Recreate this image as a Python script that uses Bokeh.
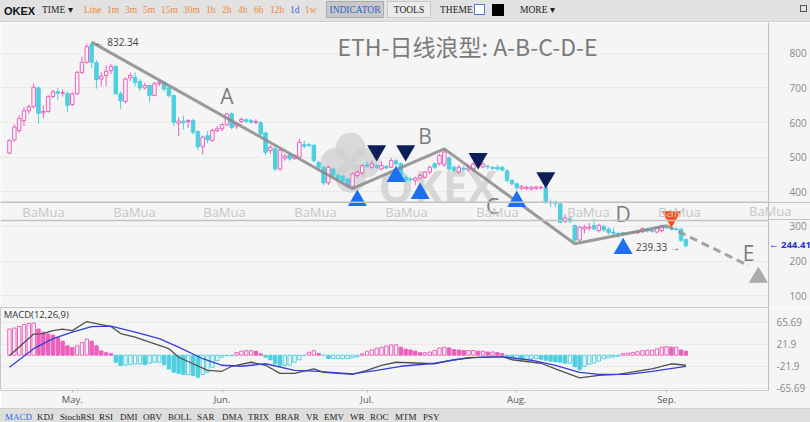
import numpy as np
import pandas as pd
from bokeh.plotting import figure
from bokeh.layouts import column
from bokeh.models import Range1d, FixedTicker, Label, Span, ColumnDataSource, Div, CustomJSTickFormatter
from bokeh.core.properties import value
from bokeh.embed import file_html
from bokeh.resources import INLINE

# ---------------- data ----------------
start_date = "2018-04-18"
opens = [512,550,577,606,634,646,700,628,632,675, 689,685,684,652,683,745,774,827,773,726,
         736,750,762,683,661,729,731,719,700,707, 678,712,714,700,678,598,604,603,606,574,
         530,562,548,577,582,594,625,590,603,608, 606,600,600,570,519,524,466,497,507,497,
         500,536,537,534,485,471,426,466,447,445, 437,416,447,455,478,471,476,466,473,471,
         490,481,442,438,433,440,442,457,481,481, 478,498,471,457,468,463,466,477,472,474,
         470,471,471,461,433,423,410,410,408,410, 411,413,370,370,365,315,322,303,261,293,
         295,303,288,300,292,284,280,282,281,281, 282,285,291,288,284,288,300,297,293,292,262]
highs = [552,595,622,645,652,713,705,650,680,695, 700,695,690,688,750,790,828,832.34,780,745,
         765,770,765,690,730,745,745,725,715,710, 718,722,718,702,680,615,620,610,612,578,
         562,575,582,590,598,628,630,602,615,612, 612,610,604,574,535,530,525,510,512,508,
         553,548,540,538,490,475,476,470,452,448, 440,456,462,480,488,490,480,488,478,498,
         495,485,446,442,444,452,460,476,485,510, 525,502,476,478,475,475,487,485,486,478,
         475,478,475,465,437,427,420,418,417,418, 418,418,378,375,370,335,330,305,302,305,
         310,322,308,305,298,296,284,285,285,287, 290,297,295,293,300,305,305,300,298,296,266]
lows = [508,545,570,590,625,640,597,612,628,670, 665,675,630,648,680,740,770,758,698,705,
        705,740,680,640,655,720,705,690,695,660, 676,705,690,672,590,560,580,585,565,520,
        508,540,545,572,575,590,580,582,598,598, 596,595,562,505,510,460,460,490,490,492,
        496,525,528,485,460,420,420,440,432,428, 412,410,440,450,470,466,466,462,465,468,
        476,438,428,430,420,436,438,452,466,476, 472,460,455,452,460,458,460,470,468,465,
        462,460,458,428,418,405,405,405,403,405, 406,365,356,355,310,310,310,255,255,280,
        288,288,283,284,276,270,268,274,275,278, 278,280,282,282,280,283,292,288,287,255,239.33]
closes = [548,587,612,634,646,702,627,632,675,689, 685,687,649,683,745,774,819,774,724,734,
          748,762,683,663,726,736,716,700,707,678, 712,716,697,678,601,604,600,606,572,530,
          558,550,577,582,594,625,586,597,609,604, 601,603,567,514,529,466,520,503,495,505,
          543,532,534,490,471,426,471,447,437,433, 416,452,457,476,474,481,471,476,469,490,
          481,442,433,435,440,447,457,471,471,505, 515,466,462,471,465,469,480,478,480,472,
          468,466,463,433,423,412,415,413,413,414, 413,370,368,367,312,325,315,260,298,298,
          298,293,303,290,283,280,278,279,280,283, 286,293,287,286,298,303,296,293,291,260,244.41]

# MACD histogram (one bar per candle)
hist = [52,54,57,61,63,64,52,46,42,40, 35,28,18.6,15,18.6,25,32,28,18.6,8.6,
        5,3,-13.9,-20.5,-19.5,-19,-17.6,-17.6,-19,-16, -14,-14,-19,-27.5,-34,-36,-38.5,-38.5,-40.5,-44,
        -38.5,-34,-24,-10.9,-4,-1,-1,5,8,9, 9,8,2.7,-4,-9,-17,-20.5,-20.5,-19.5,-14,
        -9,-0.6,6,9,3.6,-0.5,-6.6,-6.6,-6.6,-6.6, -6.6,-5,-3,2.7,8,10.5,14,15.7,18.3,20.5,
        20.5,15.7,12,10.4,8,5,5,6.3,9.4,14.5, 16,14.5,11.3,10.4,9.4,9.4,9.4,8,8,6.3,
        6.3,5,3,-3.5,-6.8,-6.8,-8,-8,-8,-6.8, -8,-9.9,-12,-13,-14,-16,-16,-23,-29,-22,
        -18,-15.5,-11.7,-7,-5,-3.5,-2,3,4,5.6, 7,9,10,10,12.5,16,17,16,16,10.4,8]
# MACD (DIF) line and signal (DEA) line, read at these candle numbers
macd_at = [0,5,7,9,11,13,16,19,21,23,26,29,33,35,38,41,44,46,50,53,56,59,63,65,68,71,74,77,80,88,
           92,96,102,104,110,113,118,122,126,131,133,137,140]
macd_val = [-1,42,43,49,52,49,67,61,57,43,36,26,13,-4,-17,-30,-32,-22,-14,-20,-36,-36,-27,-34,-36,-38,-30,-20,-14,-17,
            -9,-5,-3,-9,-16,-27,-45,-40,-38,-30,-27,-17,-20]
sig_at = [0,5,9,13,17,21,26,31,35,40,44,48,53,59,64,71,76,81,88,95,102,108,113,118,122,128,133,140]
sig_val = [-24,13,33,46,57,58,46,33,16,-7,-20,-22,-17,-30,-32,-37,-30,-22,-16,-5,-3,-10,-20,-34,-38,-38,-32,-22]

# wave drawing (candle numbers / prices)
wave_at = [17, 71, 90, 117, 136]
wave_px = [832.34, 409, 524, 250, 302]
proj_at = [136, 153]
proj_px = [302, 187]
arrow_at = [155]
arrow_px = [153]
letters = ["A", "B", "C", "D", "E"]
letter_at = [45, 86, 100, 127, 153]
letter_px = [678, 562, 360, 337, 222]
navy_at = [76, 82, 97, 111]
navy_px = [519, 519, 496, 441]
blue_at = [72, 80, 85, 105, 127]
blue_px = [375, 444, 395, 372, 236]
orange_at = [137]
orange_px = [328]

price_ticks = [100, 200, 300, 400, 500, 600, 700, 800]
macd_ticks = [-65.69, -21.9, 21.9, 65.69]
month_labels = ["May.", "Jun.", "Jul.", "Aug.", "Sep."]
title = "ETH-日线浪型: A-B-C-D-E"
last_price = 244.41
low_price = 239.33
high_price = 832.34
band_prices = (370, 317)

# ---------------- derived ----------------
dates = pd.date_range(start_date, periods=len(closes), freq="D")
idx = np.arange(len(closes))
month_pos = [int(i) for i in idx if dates[i].day == 1]

PINK = "#ec5fbd"
CYAN = "#4ecfe0"
BG = "#f5f5f5"

o = np.array(opens, float); c = np.array(closes, float)
up = c >= o
col = [PINK if u else CYAN for u in up]
fill = [BG if u else CYAN for u in up]
src = ColumnDataSource(dict(x=idx, o=o, c=c, h=highs, l=lows,
                            top=np.maximum(o, c), bot=np.minimum(o, c), col=col, fill=fill))

X0, X1 = -1.86, 157.1
Y0, Y1 = 66, 889
FRAME_W, FRAME_H, TOP_H = 768, 285, 22
xr = Range1d(X0, X1)

def ypix(v):  # screen row of a price in the main panel (for the out-of-frame axis notes)
    return TOP_H + (Y1 - v) / (Y1 - Y0) * FRAME_H

# ---------------- main chart ----------------
p = figure(frame_width=FRAME_W, frame_height=FRAME_H, x_range=xr, y_range=Range1d(Y0, Y1),
           output_backend="svg", toolbar_location=None, y_axis_location="right",
           x_axis_location=None, min_border_left=0, min_border_top=0, min_border_bottom=0,
           min_border_right=42, background_fill_color=BG, border_fill_color=BG,
           outline_line_color=None, margin=0)
p.xgrid.visible = False
p.ygrid.grid_line_color = "#d2d2d2"
p.ygrid.grid_line_dash = "1 2"
ax = p.yaxis[0]
ax.ticker = FixedTicker(ticks=price_ticks)
ax.axis_line_color = "#bdbdbd"
ax.major_tick_line_color = None
ax.minor_tick_line_color = None
ax.major_label_standoff = 15
ax.major_label_text_font_size = "10px"
ax.major_label_text_color = "#888888"
ax.major_label_text_font = "Open Sans"

# watermark logo
logo_x, logo_y = 70.6, 484
dx, dy = 15 / 4.83, 15 / 0.3465
p.scatter([logo_x, logo_x - dx, logo_x + dx, logo_x], [logo_y + dy, logo_y, logo_y, logo_y - dy],
          size=30, fill_color="#cfcfcf", fill_alpha=0.75, line_color=None)
p.text([76.4], [418], text=["OKEX"], text_font=value("Open Sans"), text_font_size="44px",
       text_font_style="bold", text_color="#d2d2d2", text_alpha=0.85, text_baseline="alphabetic")

# candles
p.segment(x0="x", y0="l", x1="x", y1="h", color="col", line_width=1, source=src)
p.vbar(x="x", top="top", bottom="bot", width=0.72, fill_color="fill", line_color="col",
       line_width=1, source=src)

# BaMua band
for yv in band_prices:
    p.add_layout(Span(location=yv, dimension="width", line_color="#c2c2c2", line_width=1.5))
for bx in [43, 134, 224, 315, 406, 497, 588, 679]:
    p.add_layout(Label(x=bx, y=343, x_units="canvas", text="BaMua", text_align="center",
                       text_baseline="middle", text_font="Open Sans", text_font_size="13px",
                       text_color="#c6c6c6"))

# wave lines
p.line(wave_at, wave_px, line_color="#8a8a8a", line_alpha=0.85, line_width=3)
p.line(proj_at, proj_px, line_color="#9a9a9a", line_alpha=0.9, line_width=3, line_dash="8 5")
p.scatter(arrow_at, arrow_px, marker="triangle", size=19, fill_color="#aaaaaa", line_color=None)

# signal markers
p.scatter(navy_at, navy_px, marker="inverted_triangle", size=19, fill_color="#0c1f59", line_color=None)
p.scatter(blue_at, blue_px, marker="triangle", size=19, fill_color="#1f6ff2", line_color=None)
p.scatter(orange_at, orange_px, marker="inverted_triangle", size=19, fill_color="#ff4a12", line_color=None)

# letters + title
p.text(letter_at, letter_px, text=letters, text_font=value("Open Sans"), text_font_size="21px",
       text_color="#7d7d7d", text_align="center", text_baseline="middle")
p.text([67.9], [822], text=[title], text_font=value("Noto Sans CJK SC"), text_font_size="23px",
       text_color="#7b7b7b", text_align="left", text_baseline="middle")

# price notes
p.text([17], [high_price], text=["← " + f"{high_price:.2f}"], x_offset=3, text_font=value("Open Sans"),
       text_font_size="10px", text_color="#444444", text_baseline="middle")
p.text([140], [low_price], text=[f"{low_price:.2f}" + " →"], x_offset=-6, text_font=value("Open Sans"),
       text_font_size="10px", text_color="#444444", text_align="right", text_baseline="middle")

# ---------------- MACD panel ----------------
m = figure(frame_width=768, frame_height=83, x_range=xr, y_range=Range1d(-70.2, 94.9),
           output_backend="svg", toolbar_location=None, y_axis_location="right",
           min_border_left=0, min_border_top=0, min_border_bottom=15, min_border_right=42,
           background_fill_color=BG, border_fill_color=BG, outline_line_color="#c8c8c8", margin=0)
m.xgrid.visible = False
m.ygrid.grid_line_color = "#d2d2d2"
m.ygrid.grid_line_dash = "1 2"
my = m.yaxis[0]
my.ticker = FixedTicker(ticks=macd_ticks)
my.formatter = CustomJSTickFormatter(code="return String(Math.round(tick*100)/100)")
my.axis_line_color = "#bdbdbd"
my.major_tick_line_color = None
my.minor_tick_line_color = None
my.major_label_standoff = 2
my.major_label_text_font_size = "10px"
my.major_label_text_color = "#888888"
my.major_label_text_font = "Open Sans"
mx = m.xaxis[0]
mx.ticker = FixedTicker(ticks=month_pos)
mx.major_label_overrides = {mp: lab for mp, lab in zip(month_pos, month_labels)}
mx.axis_line_color = "#cccccc"
mx.major_tick_line_color = "#bbbbbb"
mx.major_tick_out = 2
mx.major_tick_in = 0
mx.minor_tick_line_color = None
mx.major_label_standoff = 0
mx.major_label_text_font_size = "9.5px"
mx.major_label_text_color = "#555555"
mx.major_label_text_font = "Open Sans"

h = np.array(hist, float)
prev = np.concatenate([[-1e9], h[:-1]])
hcol = [PINK if v >= 0 else CYAN for v in h]
hfill = [(BG if v >= pv else cc) for v, pv, cc in zip(h, prev, hcol)]
m.vbar(x=idx, top=h, bottom=0, width=0.7, fill_color=hfill, line_color=hcol, line_width=1)
m.line(macd_at, macd_val, line_color="#505050", line_width=1.3)
m.line(sig_at, sig_val, line_color="#3340d8", line_width=1.3)
m.add_layout(Label(x=-1.2, y=80, text="MACD(12,26,9)", text_font="Open Sans",
                   text_font_size="9.5px", text_color="#333333", text_baseline="middle"))

# ---------------- bars (HTML) ----------------
def sp(txt, left, color="#222", extra=""):
    return (f'<span style="position:absolute;left:{left}px;top:4px;color:{color};'
            f'white-space:nowrap;{extra}">{txt}</span>')

frames = ["Line", "1m", "3m", "5m", "15m", "30m", "1h", "2h", "4h", "6h", "12h", "1d", "1w"]
frame_left = [84, 107, 125, 143, 161, 183, 206, 222, 238, 254, 270, 290, 305]
top_html = ['<div style="position:relative;width:810px;height:21px;font-family:\'Liberation Serif\';font-size:9.5px;">']
top_html.append(sp("OKEX", 4, "#111", "font-family:'Liberation Sans';font-weight:bold;font-size:11px;top:4px;"))
top_html.append(sp("TIME ▾", 42, "#222"))
for f, lft in zip(frames, frame_left):
    top_html.append(sp(f, lft, "#3a6fd8" if f == "1d" else "#f08a3c"))
top_html.append('<span style="position:absolute;left:326px;top:1px;width:58px;height:17px;background:#c8c8c8;'
                'border:1px solid #adadad;color:#2f62d0;text-align:center;line-height:17px;">INDICATOR</span>')
top_html.append('<span style="position:absolute;left:387px;top:1px;width:44px;height:17px;background:#ebebeb;'
                'border:1px solid #cacaca;color:#222;text-align:center;line-height:17px;">TOOLS</span>')
top_html.append(sp("THEME", 440, "#222"))
top_html.append('<span style="position:absolute;left:474px;top:4px;width:11px;height:11px;background:#fff;border:1px solid #4a7fd8;"></span>')
top_html.append('<span style="position:absolute;left:492px;top:4px;width:12px;height:12px;background:#000;"></span>')
top_html.append(sp("MORE ▾", 520, "#222"))
top_html.append('<span style="position:absolute;left:800px;top:5px;width:7px;height:7px;border:1px solid #555;"></span>')
top_html.append('</div>')
topbar = Div(text="".join(top_html), width=810, height=22, margin=0,
             styles={"background-color": "#e2e2e2", "border-bottom": "1px solid #cfcfcf",
                     "box-sizing": "border-box", "overflow": "hidden"})

inds = ["MACD", "KDJ", "StochRSI", "RSI", "DMI", "OBV", "BOLL", "SAR", "DMA", "TRIX", "BRAR",
        "VR", "EMV", "WR", "ROC", "MTM", "PSY"]
ind_left = [5, 37, 60, 99, 120, 143, 168, 197, 222, 248, 275, 306, 324, 350, 370, 395, 423]
bot_html = ['<div style="position:relative;width:810px;height:16px;font-family:\'Liberation Serif\';font-size:9px;">']
for n, lft in zip(inds, ind_left):
    bot_html.append(f'<span style="position:absolute;left:{lft}px;top:2px;color:{"#2a6ae0" if n == "MACD" else "#222"};">{n}</span>')
bot_html.append('</div>')
botbar = Div(text="".join(bot_html), width=810, height=17, margin=0,
             styles={"background-color": "#dedede", "border-top": "1px solid #cfcfcf",
                     "box-sizing": "border-box", "overflow": "hidden"})

# notes that sit over the price-axis strip (outside the plotting frame)
NOTE_L = 746
note_w = 810 - NOTE_L
band_top, band_bot = ypix(band_prices[0]), ypix(band_prices[1])
band_h = band_bot - band_top
note_h = int(band_h) + 60
axis_note = Div(
    text=(f'<div style="position:relative;width:{note_w}px;height:{note_h}px;">'
          f'<div style="position:absolute;left:{FRAME_W - NOTE_L}px;top:0;width:{810 - FRAME_W}px;'
          f'height:{band_h:.1f}px;border-top:1.5px solid #c2c2c2;border-bottom:1.5px solid #c2c2c2;'
          f'box-sizing:border-box;"></div>'
          f'<span style="position:absolute;left:3px;top:{band_h / 2 - 9:.1f}px;font-family:\'Open Sans\';'
          f'font-size:13px;color:#c6c6c6;line-height:18px;white-space:nowrap;">BaMua</span>'
          f'<span style="position:absolute;left:{FRAME_W - NOTE_L + 1}px;top:{ypix(last_price) - band_top - 7:.1f}px;'
          f'font-family:\'Open Sans\';font-size:9.5px;font-weight:bold;color:#2a2fd0;white-space:nowrap;">'
          f'← {last_price:.2f}</span></div>'),
    width=note_w, height=note_h, margin=0,
    styles={"position": "absolute", "left": f"{NOTE_L}px", "top": f"{band_top:.1f}px",
            "pointer-events": "none"})

layout = column(topbar, p, m, botbar, axis_note, spacing=0, margin=0,
                styles={"position": "absolute", "left": "0px", "top": "0px"})
open("out.html", "w").write(file_html(layout, INLINE))
